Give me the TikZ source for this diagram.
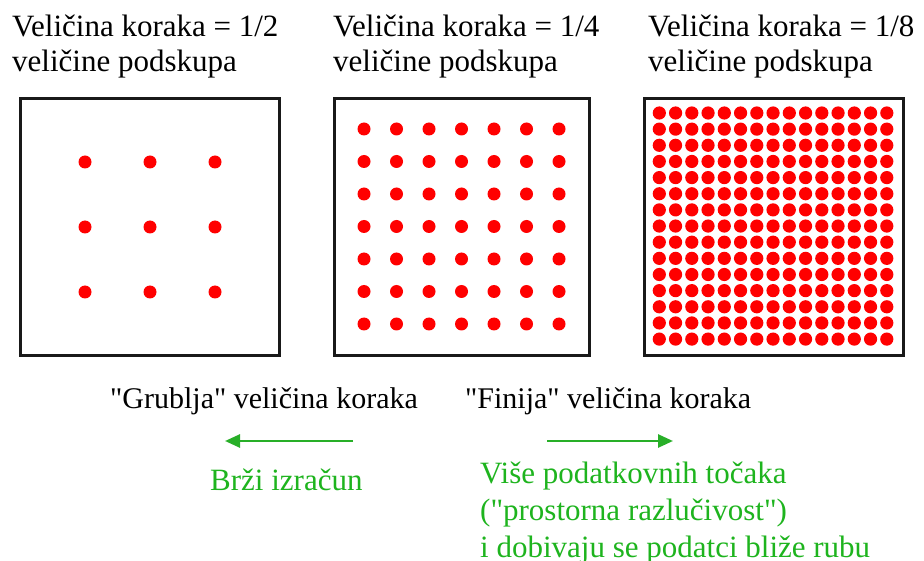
\documentclass[tikz,border=0pt]{standalone}
\usepackage{fontspec}
\setmainfont[Ligatures=TeXOff]{Liberation Serif}
\usetikzlibrary{arrows.meta}
\definecolor{dotred}{RGB}{255,0,0}
\definecolor{txtgreen}{RGB}{30,180,30}
\definecolor{arrgreen}{RGB}{40,175,40}
\definecolor{framecol}{RGB}{25,25,25}
\begin{document}
\begin{tikzpicture}[x=1pt,y=-1pt,
  frame/.style={draw=framecol, line width=3.2pt, inner sep=0pt, outer sep=0pt, minimum height=257pt},
  dot/.style={fill=dotred},
  head/.style={font=\fontsize{31}{35}\selectfont, anchor=base west, align=left, inner sep=0pt},
  lbl/.style={font=\fontsize{30}{34}\selectfont, anchor=base west, inner sep=0pt},
  gtext/.style={font=\fontsize{31}{37}\selectfont, text=txtgreen, anchor=base west, align=left, inner sep=0pt},
  garrow/.style={draw=arrgreen, line width=2.6pt, -{Triangle[length=15pt,width=13pt]}}
]
\useasboundingbox (0,0) rectangle (924,561);
\fill[white] (0,0) rectangle (924,561);

% boxes
\node[frame, minimum width=259pt] (b1) at (150,227) {};
\node[frame, minimum width=255pt] (b2) at (462,227) {};
\node[frame, minimum width=259pt] (b3) at (774,227) {};

% dots
\foreach \i in {0,...,2}
  \foreach \j in {0,...,2}
    \fill[dot] (85+65*\i, 162+65*\j) circle[radius=6.5pt];
\foreach \i in {0,...,6}
  \foreach \j in {0,...,6}
    \fill[dot] (364+32.5*\i, 129+32.5*\j) circle[radius=6.5pt];
\foreach \i in {0,...,14}
  \foreach \j in {0,...,14}
    \fill[dot] (659.3+16.25*\i, 113+16.15*\j) circle[radius=6.6pt];

% headings (anchor = baseline of the last line)
\node[head] (t1) at (12,72) {Veličina koraka = 1/2\\veličine podskupa};
\node[head] (t2) at (333,72) {Veličina koraka = 1/4\\veličine podskupa};
\node[head] (t3) at (648,72) {Veličina koraka = 1/8\\veličine podskupa};

% bottom labels
\node[lbl] (g) at (110,408) {"Grublja" veličina koraka};
\node[lbl] (f) at (465,408) {"Finija" veličina koraka};

% arrows
\coordinate (la1) at (353,441);
\coordinate (la2) at (225,441);
\coordinate (ra1) at (547,441);
\coordinate (ra2) at (673,441);
\draw[garrow] (la1) -- (la2);
\draw[garrow] (ra1) -- (ra2);

% green texts
\node[gtext] (bz) at (210,490) {Brži izračun};
\node[gtext] (vp) at (480,557) {Više podatkovnih točaka\\("prostorna razlučivost")\\i dobivaju se podatci bliže rubu};
\end{tikzpicture}
\end{document}
